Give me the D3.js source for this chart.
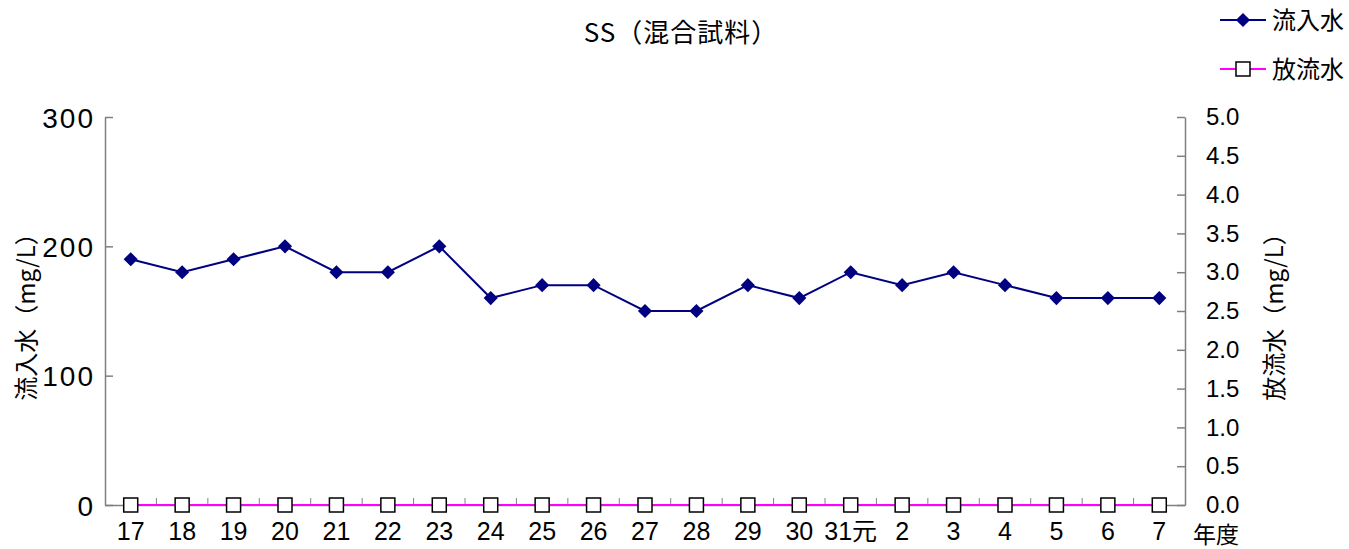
<!DOCTYPE html>
<html><head><meta charset="utf-8">
<script src="https://cdn.jsdelivr.net/npm/d3@7"></script>
<style>body{margin:0;background:#fff}svg{display:block}text{font-family:"Noto Sans CJK JP","Liberation Sans",sans-serif;fill:#000}</style>
</head><body><svg id="c" width="1349" height="549"></svg>
<script>
const categories=["17","18","19","20","21","22","23","24","25","26","27","28","29","30","31元","2","3","4","5","6","7"];
const inflow=[190,180,190,200,180,180,200,160,170,170,150,150,170,160,180,170,180,170,160,160,160];
const effluent=[0,0,0,0,0,0,0,0,0,0,0,0,0,0,0,0,0,0,0,0,0];
const leftTicks=[0,100,200,300];
const rightTicks=[0,0.5,1,1.5,2,2.5,3,3.5,4,4.5,5];
const title="SS（混合試料）";
const seriesNames=["流入水","放流水"];

const svg=d3.select("#c");
const L=105,R=1185,T=117,B=505;
const x=d3.scaleBand().domain(categories).range([L,R]);
const yl=d3.scaleLinear().domain([0,300]).range([B,T]);
const yr=d3.scaleLinear().domain([0,5]).range([B,T]);
const axisCol="#808080";

// left axis
const gl=svg.append("g").attr("transform",`translate(${L},0)`)
 .call(d3.axisLeft(yl).tickValues(leftTicks).tickSizeInner(-8).tickSizeOuter(0).tickPadding(10).tickFormat(d3.format("d")));
gl.selectAll("text").style("font-family","'Liberation Sans',sans-serif").attr("font-size",28).attr("letter-spacing","2px").attr("dy","0.36em");
// right axis
const gr=svg.append("g").attr("transform",`translate(${R},0)`)
 .call(d3.axisRight(yr).tickValues(rightTicks).tickSizeInner(-8).tickSizeOuter(0).tickPadding(21).tickFormat(d3.format(".1f")));
gr.selectAll("text").style("font-family","'Liberation Sans',sans-serif").attr("font-size",24);
// x axis
const gx=svg.append("g").attr("transform",`translate(0,${B})`)
 .call(d3.axisBottom(x).tickSize(0).tickPadding(17));
gx.selectAll("text").attr("font-size",25).style("font-family","'Liberation Sans','Noto Sans CJK JP',sans-serif");
// boundary ticks pointing up
const bounds=categories.map(c=>x(c)).concat([R]);
svg.append("g").selectAll("line").data(bounds.slice(1,-1)).join("line")
 .attr("x1",d=>d).attr("x2",d=>d).attr("y1",B).attr("y2",B-7).attr("stroke",axisCol);
[gl,gr,gx].forEach(g=>{g.selectAll("path,line").attr("stroke",axisCol).attr("stroke-width",1.5);g.select(".domain").attr("stroke",axisCol);});
gx.selectAll("text").attr("fill","#000");

const cx=c=>x(c)+x.bandwidth()/2;
// effluent line
svg.append("path").datum(effluent).attr("fill","none").attr("stroke","#ff00ff").attr("stroke-width",2)
 .attr("d",d3.line().x((d,i)=>cx(categories[i])).y(d=>yr(d)));
// inflow line
svg.append("path").datum(inflow).attr("fill","none").attr("stroke","#000080").attr("stroke-width",2)
 .attr("d",d3.line().x((d,i)=>cx(categories[i])).y(d=>yl(d)));
svg.append("g").selectAll("path").data(inflow).join("path")
 .attr("transform",(d,i)=>`translate(${cx(categories[i])},${yl(d)}) rotate(45)`)
 .attr("d",d3.symbol().type(d3.symbolSquare).size(100)).attr("fill","#000080");
svg.append("g").selectAll("rect").data(effluent).join("rect")
 .attr("x",(d,i)=>cx(categories[i])-7).attr("y",d=>yr(d)-7).attr("width",14).attr("height",14)
 .attr("fill","#fff").attr("stroke","#000").attr("stroke-width",1.5);

// title
svg.append("text").attr("x",681).attr("y",42).attr("text-anchor","middle").attr("font-size",26).attr("letter-spacing","1px").text(title);
// axis titles
svg.append("text").attr("transform","translate(35,311) rotate(-90)").attr("text-anchor","middle").attr("font-size",24).text("流入水（mg/L）");
svg.append("text").attr("transform","translate(1283,311) rotate(-90)").attr("text-anchor","middle").attr("font-size",24).text("放流水（mg/L）");
svg.append("text").attr("x",1216).attr("y",543).attr("text-anchor","middle").attr("font-size",23).text("年度");

// legend
const lg=svg.append("g");
lg.append("line").attr("x1",1220).attr("x2",1266).attr("y1",20).attr("y2",20).attr("stroke","#000080").attr("stroke-width",2);
lg.append("path").attr("transform","translate(1243,20) rotate(45)").attr("d",d3.symbol().type(d3.symbolSquare).size(100)).attr("fill","#000080");
lg.append("text").attr("x",1272).attr("y",29).attr("font-size",24).text(seriesNames[0]);
lg.append("line").attr("x1",1220).attr("x2",1266).attr("y1",69).attr("y2",69).attr("stroke","#ff00ff").attr("stroke-width",2);
lg.append("rect").attr("x",1236).attr("y",62).attr("width",14).attr("height",14).attr("fill","#fff").attr("stroke","#000").attr("stroke-width",1.5);
lg.append("text").attr("x",1272).attr("y",78).attr("font-size",24).text(seriesNames[1]);
</script></body></html>
